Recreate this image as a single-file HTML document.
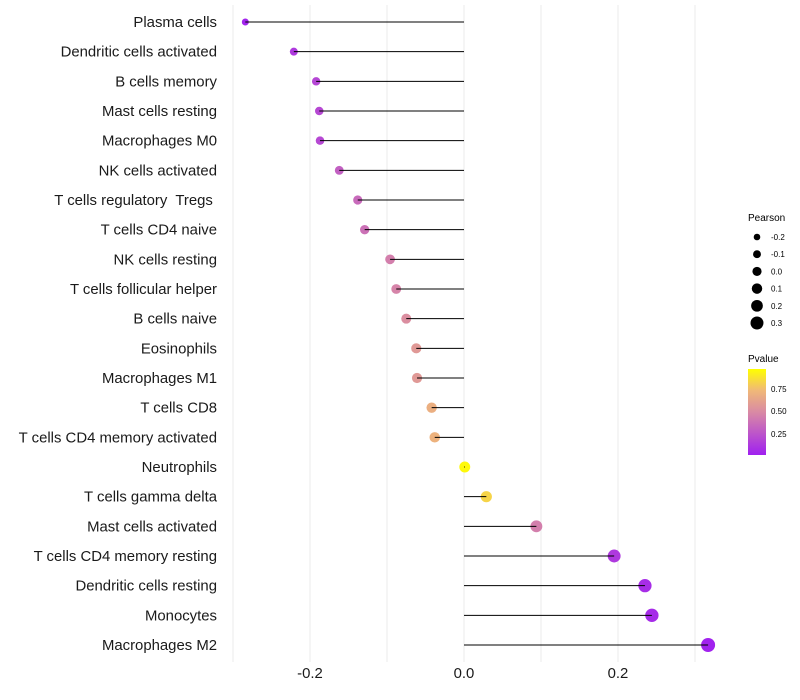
<!DOCTYPE html>
<html><head><meta charset="utf-8"><style>
body{margin:0;background:#fff;font-family:"Liberation Sans",sans-serif}
svg{display:block}
text{white-space:pre}
</style></head><body>
<svg id="chart" width="800" height="700">
<defs><linearGradient id="pg" x1="0" y1="1" x2="0" y2="0">
<stop offset="0" stop-color="#a020f0"/><stop offset="0.5" stop-color="#d98aa4"/><stop offset="0.75" stop-color="#f0b878"/><stop offset="1" stop-color="#ffff00"/></linearGradient></defs>
<g id="grid"></g>
<g id="marks"></g>
<g id="ylab"></g>
<g id="xlab"></g>
<g id="sizeLeg">
<text x="748" y="221" font-size="10">Pearson</text>
</g>
<g>
<text x="748" y="362" font-size="10">Pvalue</text>
<rect x="748" y="369" width="18" height="86" fill="url(#pg)"/>
<text x="771" y="392" font-size="8">0.75</text>
<text x="771" y="414" font-size="8">0.50</text>
<text x="771" y="437" font-size="8">0.25</text>
</g>
</svg>
<script>
const categories=["Plasma cells","Dendritic cells activated","B cells memory","Mast cells resting","Macrophages M0","NK cells activated","T cells regulatory  Tregs ","T cells CD4 naive","NK cells resting","T cells follicular helper","B cells naive","Eosinophils","Macrophages M1","T cells CD8","T cells CD4 memory activated","Neutrophils","T cells gamma delta","Mast cells activated","T cells CD4 memory resting","Dendritic cells resting","Monocytes","Macrophages M2"];
const pearson=[-0.284,-0.221,-0.192,-0.188,-0.187,-0.162,-0.138,-0.129,-0.096,-0.088,-0.075,-0.062,-0.061,-0.042,-0.038,0.001,0.029,0.094,0.195,0.235,0.244,0.317];
const pvalue=[0.02,0.12,0.18,0.19,0.19,0.3,0.35,0.38,0.45,0.47,0.52,0.58,0.58,0.7,0.72,0.98,0.85,0.45,0.12,0.06,0.05,0.01];
const xTicks=[-0.2,0,0.2];
const xTickLabels=["-0.2","0.0","0.2"];
const gridVals=[-0.3,-0.2,-0.1,0,0.1,0.2,0.3];
const sizeLegendVals=[-0.2,-0.1,0.0,0.1,0.2,0.3];
const NS="http://www.w3.org/2000/svg";
const x=v=>464+v*770;
const y=i=>22+i*(623/21);
const r=v=>Math.sqrt(Math.max(2,29.6+61.3*v));
function lerp(a,b,t){return a.map((c,i)=>Math.round(c+(b[i]-c)*t));}
const stops=[[0,[160,32,240]],[0.5,[217,138,164]],[0.75,[240,184,120]],[1,[255,255,0]]];
function col(p){for(let i=1;i<stops.length;i++){if(p<=stops[i][0]){const t=(p-stops[i-1][0])/(stops[i][0]-stops[i-1][0]);return "rgb("+lerp(stops[i-1][1],stops[i][1],t).join(",")+")";}}return "rgb(255,255,0)";}
function mk(tag,attrs,parent){const e=document.createElementNS(NS,tag);for(const k in attrs)e.setAttribute(k,attrs[k]);parent.appendChild(e);return e;}
const grid=document.getElementById('grid'),marks=document.getElementById('marks'),ylab=document.getElementById('ylab'),xlab=document.getElementById('xlab');
gridVals.forEach(v=>{const l=mk('line',{x1:x(v),x2:x(v),y1:5,y2:662,stroke:'#ebebeb','stroke-width':1},grid);

});
categories.forEach((c,i)=>{
 const cy=y(i);
 const dot=mk('circle',{cx:x(pearson[i]),cy:cy,r:r(pearson[i]),fill:col(pvalue[i])},marks);
 
 
 const ln=mk('line',{x1:x(0),x2:x(pearson[i]),y1:cy,y2:cy,stroke:'#000','stroke-width':1},marks);
 
 
 const t=mk('text',{x:217,y:cy+5,'text-anchor':'end','font-size':14.9,fill:'#1a1a1a'},ylab);
 t.textContent=c;
 
 
});
xTicks.forEach((v,i)=>{const t=mk('text',{x:x(v),y:678,'text-anchor':'middle','font-size':14.9,fill:'#1a1a1a'},xlab);
t.textContent=xTickLabels[i];

});
const sl=document.getElementById('sizeLeg');
const lr=[3.3,4,4.6,5.2,5.8,6.5];
sizeLegendVals.forEach((v,i)=>{const cy=237+i*17.2;
const c=mk('circle',{cx:757,cy:cy,r:3.3+(v+0.2)*6.4,fill:'#000'},sl);


const t=mk('text',{x:771,y:cy+3,'font-size':8},sl);
t.textContent=v.toFixed(1);

});
</script>
</body></html>
